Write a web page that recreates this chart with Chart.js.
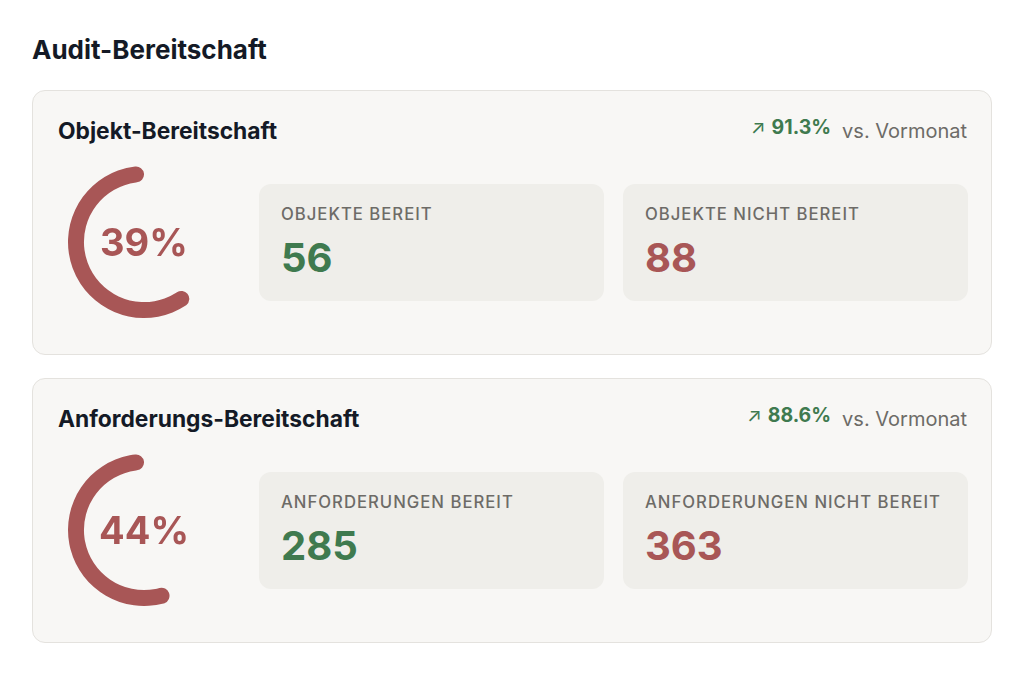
<!DOCTYPE html>
<html lang="de">
<head>
  <meta charset="UTF-8" />
  <title>Audit-Bereitschaft</title>
  <script src="https://cdn.jsdelivr.net/npm/chart.js"></script>
  <style>
    html, body { margin: 0; padding: 0; background: #ffffff; }
    body { font-family: Inter, "Noto Sans", sans-serif; width: 1024px; height: 675px; position: relative; overflow: hidden; }
    h1 { position: absolute; left: 32px; top: 34px; margin: 0; font-size: 26px; line-height: 32px; font-weight: 700; color: #141a26; }
    .card { position: absolute; left: 32px; width: 958px; height: 263px; background: #f8f7f5; border: 1px solid #e4e2de; border-radius: 13px; }
    .card h2 { position: absolute; left: 25px; top: 26px; margin: 0; font-size: 22.8px; line-height: 28px; font-weight: 700; color: #141a26; }
    .trend { position: absolute; right: 24px; top: 26px; line-height: 28px; display: flex; align-items: baseline; white-space: nowrap; }
    .trend .arrow { font-size: 19px; color: #3f7a4f; margin-right: 6px; position: relative; top: -4px; }
    .trend .pct { font-size: 19.5px; font-weight: 700; color: #3f7a4f; position: relative; top: -4px; }
    .trend .cmp { font-size: 20px; color: #6d6b67; margin-left: 11px; }
    .gauge { position: absolute; left: 35px; top: 75px; width: 152px; height: 152px; }
    .gauge .val { position: absolute; left: 0; top: 0; width: 152px; height: 152px; display: flex; align-items: center; justify-content: center; font-size: 38px; font-weight: 650; color: #a85656; }
    .stat { position: absolute; top: 93px; height: 117px; background: #efeeea; border-radius: 12px; }
    .stat .lbl { position: absolute; left: 22px; top: 20px; font-size: 16.7px; line-height: 20px; font-weight: 500; letter-spacing: 0.06em; color: #6d6b67; text-transform: uppercase; white-space: nowrap; }
    .stat .num { position: absolute; left: 22px; top: 50px; font-size: 40px; line-height: 48px; font-weight: 700; }
  </style>
</head>
<body>
  <h1>Audit-Bereitschaft</h1>
  <div id="cards"></div>

  <script>
    // Werte
    const panelTitles = ['Objekt-Bereitschaft', 'Anforderungs-Bereitschaft'];
    const readyLabels = ['Objekte bereit', 'Anforderungen bereit'];
    const notReadyLabels = ['Objekte nicht bereit', 'Anforderungen nicht bereit'];
    const readyCounts = [56, 285];
    const notReadyCounts = [88, 363];
    const trendValues = [91.3, 88.6];

    const red = '#a85656';
    const green = '#3f7a4f';
    const cardTops = [90, 378];

    const wrap = document.getElementById('cards');

    panelTitles.forEach((title, i) => {
      const ready = readyCounts[i];
      const notReady = notReadyCounts[i];
      const pct = Math.round(ready / (ready + notReady) * 100);

      const card = document.createElement('div');
      card.className = 'card';
      card.style.top = cardTops[i] + 'px';
      card.innerHTML = `
        <h2>${title}</h2>
        <div class="trend"><span class="arrow">↗</span><span class="pct">${trendValues[i].toFixed(1)}%</span><span class="cmp">vs. Vormonat</span></div>
        <div class="gauge"><canvas id="gauge${i}"></canvas><div class="val">${pct}%</div></div>
        <div class="stat" style="left:226px;width:345px"><div class="lbl">${readyLabels[i]}</div><div class="num" style="color:${green}">${ready}</div></div>
        <div class="stat" style="left:590px;width:345px"><div class="lbl">${notReadyLabels[i]}</div><div class="num" style="color:${red}">${notReady}</div></div>
      `;
      wrap.appendChild(card);

      new Chart(document.getElementById('gauge' + i), {
        type: 'doughnut',
        data: {
          labels: [readyLabels[i], notReadyLabels[i]],
          datasets: [{
            data: [ready, notReady],
            backgroundColor: ['rgba(0,0,0,0)', red],
            borderWidth: 0,
            borderRadius: 8
          }]
        },
        options: {
          responsive: true,
          maintainAspectRatio: false,
          animation: false,
          cutout: '79%',
          events: [],
          plugins: { legend: { display: false }, tooltip: { enabled: false } }
        }
      });
    });
  </script>
</body>
</html>
